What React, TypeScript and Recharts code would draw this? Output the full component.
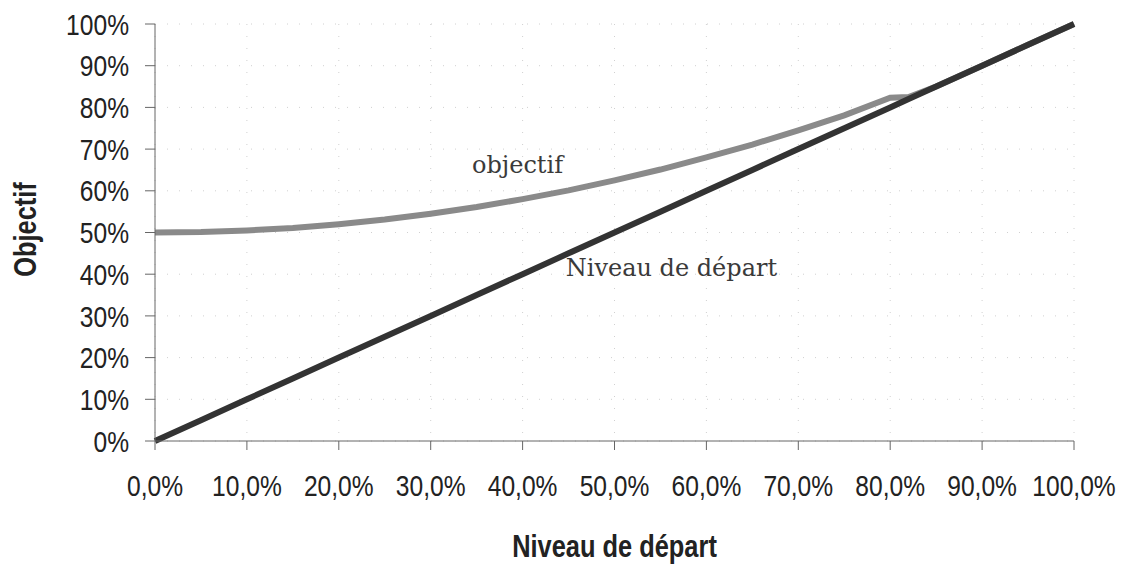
import { LineChart, Line, XAxis, YAxis, CartesianGrid, ReferenceDot, Label } from 'recharts'

// niveau de départ (axe x, en %)
const niveaux = [0, 5, 10, 15, 20, 25, 30, 35, 40, 45, 50, 55, 60, 65, 70, 75, 80, 82, 85, 90, 95, 100]
// courbe "objectif"
const objectif = [50, 50.1, 50.5, 51.1, 52, 53.1, 54.5, 56.1, 58, 60.1, 62.5, 65.1, 68, 71.1, 74.5, 78.1, 82.3, 82.5, 85, 90, 95, 100]
// courbe "Niveau de départ" (diagonale)
const depart = [0, 5, 10, 15, 20, 25, 30, 35, 40, 45, 50, 55, 60, 65, 70, 75, 80, 82, 85, 90, 95, 100]

const xTicks = [0, 10, 20, 30, 40, 50, 60, 70, 80, 90, 100]
const yTicks = [0, 10, 20, 30, 40, 50, 60, 70, 80, 90, 100]

const data = niveaux.map((x, i) => ({ x, objectif: objectif[i], depart: depart[i] }))

const SANS = "'Liberation Sans', Arial, sans-serif"
const SERIF = "'DejaVu Serif', 'Liberation Serif', serif"
const AXIS = '#666'
const NARROW = 0.82 // pas de police étroite installée : on compresse

const fmtX = (v: number) => `${v.toFixed(1).replace('.', ',')}%`
const fmtY = (v: number) => `${v}%`

function NarrowText({ x, y, anchor, dy, bold, rotate, children }: any) {
  const rot = rotate ? ` rotate(${rotate})` : ''
  return (
    <text
      transform={`translate(${x}, ${y})${rot} scale(${NARROW}, 1)`}
      textAnchor={anchor}
      dy={dy}
      fill="#222"
      fontFamily={SANS}
      fontSize={bold ? 31 : 30}
      fontWeight={bold ? 'bold' : 'normal'}
    >
      {children}
    </text>
  )
}

const XTick = (p: any) => (
  <NarrowText x={p.x} y={p.y} anchor="middle" dy="0.71em">
    {fmtX(p.payload.value)}
  </NarrowText>
)

const YTick = (p: any) => (
  <NarrowText x={p.x} y={p.y} anchor="end" dy="0.355em">
    {fmtY(p.payload.value)}
  </NarrowText>
)

function lineLabel(text: string) {
  return (p: any) => (
    <text x={p.viewBox.x} y={p.viewBox.y} fill="#3a3a3a" fontFamily={SERIF} fontSize={24}>
      {text}
    </text>
  )
}

export default function App() {
  return (
    <div style={{ position: 'absolute', left: 0, top: 0, background: '#fff' }}>
      <LineChart width={1126} height={570} data={data} margin={{ top: 24, right: 52, bottom: 0, left: 0 }}>
        <CartesianGrid stroke="#d0d0d0" strokeDasharray="1 11" />
        <XAxis
          dataKey="x"
          type="number"
          domain={[0, 100]}
          ticks={xTicks}
          height={129}
          tickSize={9}
          tickMargin={25}
          stroke={AXIS}
          tick={<XTick />}
        >
          <Label
            content={(p: any) => (
              <NarrowText x={p.viewBox.x + p.viewBox.width / 2} y={557} anchor="middle" bold>
                Niveau de départ
              </NarrowText>
            )}
          />
        </XAxis>
        <YAxis
          type="number"
          domain={[0, 100]}
          ticks={yTicks}
          width={155}
          tickSize={10}
          tickMargin={16}
          stroke={AXIS}
          tick={<YTick />}
        >
          <Label
            content={(p: any) => (
              <NarrowText x={36} y={p.viewBox.y + p.viewBox.height / 2 - 3} anchor="middle" rotate={-90} bold>
                Objectif
              </NarrowText>
            )}
          />
        </YAxis>
        <Line
          type="linear"
          dataKey="objectif"
          stroke="#8a8a8a"
          strokeWidth={6}
          dot={false}
          isAnimationActive={false}
        />
        <Line
          type="linear"
          dataKey="depart"
          stroke="#333"
          strokeWidth={6}
          dot={false}
          isAnimationActive={false}
        />
        <ReferenceDot x={34.6} y={64.0} r={1} fill="none" stroke="none" label={lineLabel('objectif')} />
        <ReferenceDot x={44.8} y={39.3} r={1} fill="none" stroke="none" label={lineLabel('Niveau de départ')} />
      </LineChart>
    </div>
  )
}
